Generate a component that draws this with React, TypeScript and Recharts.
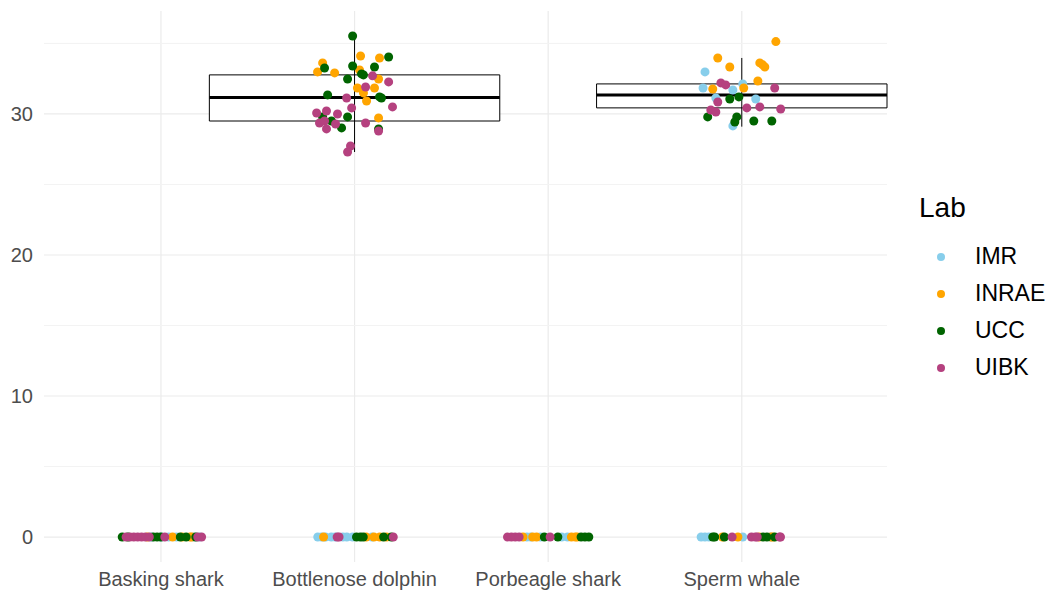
import React from "react";
import {
  ComposedChart,
  Scatter,
  XAxis,
  YAxis,
  CartesianGrid,
  ReferenceArea,
  ReferenceLine,
} from "recharts";

const CATEGORIES = ["Basking shark", "Bottlenose dolphin", "Porbeagle shark", "Sperm whale"];
const X_TICKS = [1, 2, 3, 4];
const Y_TICKS = [0, 10, 20, 30];
const Y_MINOR = [5, 15, 25, 35];

const LABS = ["IMR", "INRAE", "UCC", "UIBK"];
const LAB_COLORS: Record<string, string> = {
  IMR: "#87CEEB",
  INRAE: "#FFA500",
  UCC: "#006400",
  UIBK: "#B5417F",
};

// [category index, jitter offset, value]
type Pt = [number, number, number];

const IMR_POINTS: Pt[] = [
  [0, -0.05, 0], [0, 0.0, 0], [0, 0.04, 0], [0, 0.08, 0], [0, 0.17, 0], [0, 0.2, 0],
  [1, -0.19, 0], [1, -0.17, 0], [1, -0.15, 0], [1, -0.12, 0], [1, -0.1, 0], [1, -0.06, 0],
  [1, -0.04, 0], [1, -0.01, 0], [1, 0.09, 0],
  [2, -0.11, 0], [2, -0.09, 0], [2, -0.04, 0], [2, 0.07, 0], [2, 0.1, 0],
  [3, -0.21, 0], [3, -0.19, 0], [3, -0.17, 0], [3, 0.005, 0], [3, 0.15, 0],
  [3, -0.19, 32.98], [3, -0.2, 31.84], [3, -0.134, 31.13], [3, -0.046, 31.7],
  [3, 0.005, 32.13], [3, 0.072, 31.06], [3, -0.046, 29.15],
];

const INRAE_POINTS: Pt[] = [
  [0, -0.07, 0], [0, 0.06, 0], [0, 0.11, 0], [0, 0.15, 0], [0, 0.16, 0],
  [1, -0.16, 0], [1, 0.06, 0], [1, 0.1, 0], [1, 0.13, 0], [1, 0.165, 0],
  [2, -0.13, 0], [2, -0.08, 0], [2, -0.06, 0], [2, 0.12, 0], [2, 0.14, 0], [2, 0.15, 0],
  [3, -0.1, 0], [3, -0.02, 0], [3, 0.09, 0], [3, 0.15, 0], [3, 0.16, 0],
  [1, 0.031, 34.11], [1, 0.129, 33.97], [1, -0.165, 33.62], [1, -0.191, 32.98],
  [1, -0.103, 32.91], [1, 0.026, 33.12], [1, 0.124, 32.48], [1, 0.015, 31.84],
  [1, 0.103, 31.84], [1, 0.046, 31.49], [1, 0.062, 30.92], [1, 0.124, 29.72],
  [3, 0.176, 35.13], [3, -0.124, 33.97], [3, -0.062, 33.33], [3, 0.093, 33.62],
  [3, 0.108, 33.48], [3, 0.119, 33.33], [3, 0.083, 32.34], [3, -0.15, 31.77],
  [3, 0.01, 31.84],
];

const UCC_POINTS: Pt[] = [
  [0, -0.2, 0], [0, -0.17, 0], [0, -0.04, 0], [0, -0.02, 0], [0, 0.0, 0], [0, 0.1, 0],
  [0, 0.13, 0], [0, 0.18, 0],
  [1, 0.01, 0], [1, 0.03, 0], [1, 0.045, 0], [1, 0.15, 0], [1, 0.19, 0],
  [2, -0.02, 0], [2, 0.05, 0], [2, 0.17, 0], [2, 0.19, 0], [2, 0.21, 0],
  [3, -0.15, 0], [3, -0.14, 0], [3, -0.09, 0], [3, 0.11, 0], [3, 0.13, 0], [3, 0.17, 0],
  [1, -0.01, 35.53], [1, 0.176, 34.04], [1, -0.155, 33.26], [1, -0.01, 33.4],
  [1, 0.103, 33.33], [1, -0.036, 32.48], [1, 0.036, 32.84], [1, 0.046, 32.77],
  [1, -0.139, 31.35], [1, 0.129, 31.21], [1, 0.139, 31.13], [1, -0.165, 29.79],
  [1, -0.119, 29.5], [1, -0.036, 29.79], [1, -0.067, 29.01], [1, 0.124, 28.94],
  [3, -0.176, 29.79], [3, -0.062, 31.06], [3, -0.015, 31.21], [3, -0.026, 29.79],
  [3, -0.036, 29.43], [3, 0.062, 29.5], [3, 0.155, 29.5],
];

const UIBK_POINTS: Pt[] = [
  [0, -0.18, 0], [0, -0.16, 0], [0, -0.14, 0], [0, -0.12, 0], [0, -0.1, 0], [0, -0.08, 0],
  [0, -0.06, 0], [0, 0.02, 0], [0, 0.19, 0], [0, 0.21, 0],
  [1, -0.09, 0], [1, -0.08, 0], [1, 0.2, 0],
  [2, -0.21, 0], [2, -0.19, 0], [2, -0.17, 0], [2, -0.15, 0], [2, 0.01, 0],
  [3, -0.05, 0], [3, 0.05, 0], [3, 0.07, 0], [3, 0.08, 0], [3, 0.195, 0], [3, 0.2, 0],
  [1, 0.093, 32.7], [1, 0.176, 32.27], [1, 0.057, 31.91], [1, -0.041, 31.13],
  [1, 0.196, 30.5], [1, -0.015, 30.43], [1, -0.196, 30.07], [1, -0.145, 30.21],
  [1, -0.088, 30.0], [1, -0.181, 29.36], [1, -0.155, 29.5], [1, -0.098, 29.29],
  [1, -0.145, 28.94], [1, 0.057, 29.36], [1, 0.124, 28.79], [1, -0.021, 27.73],
  [1, -0.036, 27.3],
  [3, -0.108, 32.2], [3, -0.083, 32.06], [3, -0.124, 30.85], [3, -0.16, 30.28],
  [3, -0.134, 30.14], [3, 0.026, 30.43], [3, 0.093, 30.5], [3, 0.17, 31.84],
  [3, 0.201, 30.35],
];

const LAB_POINTS: Record<string, Pt[]> = {
  IMR: IMR_POINTS,
  INRAE: INRAE_POINTS,
  UCC: UCC_POINTS,
  UIBK: UIBK_POINTS,
};

// boxplot summaries (non-zero values only)
const BOX_CATS = [1, 3];
const BOX_LOW = [27.3, 29.1];
const BOX_Q1 = [29.5, 30.43];
const BOX_MED = [31.17, 31.35];
const BOX_Q3 = [32.77, 32.13];
const BOX_HIGH = [35.53, 33.97];
const BOX_HALF = 0.75;

const FONT = '"Liberation Sans", Arial, Helvetica, sans-serif';

export default function App() {
  return (
    <div style={{ position: "absolute", left: 0, top: 0, width: 1055, height: 598, background: "#fff", fontFamily: FONT }}>
      <ComposedChart width={1055} height={598} margin={{ top: 11, right: 168, left: 0, bottom: 0 }}>
        <CartesianGrid
          stroke="#EBEBEB"
          strokeWidth={1.2}
          horizontalValues={Y_TICKS}
          verticalValues={X_TICKS}
        />
        {Y_MINOR.map((v) => (
          <ReferenceLine key={v} y={v} stroke="#F3F3F3" strokeWidth={1} />
        ))}
        <XAxis
          type="number"
          dataKey="x"
          domain={[0.396, 4.75]}
          ticks={X_TICKS}
          tickFormatter={(v: number) => CATEGORIES[v - 1]}
          interval={0}
          allowDataOverflow
          axisLine={false}
          tickLine={false}
          tickSize={0}
          tickMargin={10}
          height={36}
          tick={{ fill: "#4D4D4D", fontSize: 20, fontFamily: FONT }}
        />
        <YAxis
          type="number"
          dataKey="y"
          domain={[-1.77, 37.3]}
          ticks={Y_TICKS}
          allowDataOverflow
          axisLine={false}
          tickLine={false}
          tickSize={0}
          tickMargin={11}
          width={44}
          tick={{ fill: "#4D4D4D", fontSize: 20, fontFamily: FONT }}
        />
        {BOX_CATS.map((c, i) => (
          <ReferenceLine
            key={`wl${i}`}
            segment={[{ x: c + 1, y: BOX_LOW[i] }, { x: c + 1, y: BOX_HIGH[i] }]}
            stroke="#000"
            strokeWidth={1}
          />
        ))}
        {BOX_CATS.map((c, i) => (
          <ReferenceArea
            key={`box${i}`}
            x1={c + 1 - BOX_HALF}
            x2={c + 1 + BOX_HALF}
            y1={BOX_Q1[i]}
            y2={BOX_Q3[i]}
            fill="#fff"
            fillOpacity={1}
            stroke="#000"
            strokeWidth={1}
          />
        ))}
        {BOX_CATS.map((c, i) => (
          <ReferenceLine
            key={`med${i}`}
            segment={[{ x: c + 1 - BOX_HALF, y: BOX_MED[i] }, { x: c + 1 + BOX_HALF, y: BOX_MED[i] }]}
            stroke="#000"
            strokeWidth={3}
          />
        ))}
        {LABS.map((lab) => (
          <Scatter
            key={lab}
            name={lab}
            data={LAB_POINTS[lab].map(([c, dx, v]) => ({ x: c + 1 + dx, y: v }))}
            fill={LAB_COLORS[lab]}
            isAnimationActive={false}
            shape={(p: any) => <circle cx={p.cx} cy={p.cy} r={4.5} fill={LAB_COLORS[lab]} />}
          />
        ))}
      </ComposedChart>
      <div style={{ position: "absolute", left: 919, top: 190, color: "#000" }}>
        <div style={{ fontSize: 28, lineHeight: "36px", marginBottom: 12 }}>Lab</div>
        {LABS.map((lab) => (
          <div key={lab} style={{ display: "flex", alignItems: "center", height: 37 }}>
            <span
              style={{
                width: 8,
                height: 8,
                borderRadius: 4,
                background: LAB_COLORS[lab],
                marginLeft: 18,
                marginRight: 30,
              }}
            />
            <span style={{ fontSize: 23 }}>{lab}</span>
          </div>
        ))}
      </div>
    </div>
  );
}
